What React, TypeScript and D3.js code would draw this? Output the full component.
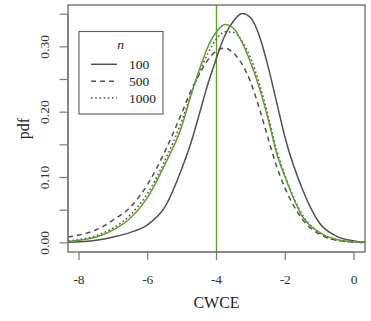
import React, { useRef, useEffect } from 'react';
import * as d3 from 'd3';

// CWCE grid (shared x positions) and density values
const cwce = [-8.32, -8, -7.5, -7, -6.5, -6, -5.5, -5, -4.75, -4.5, -4.25, -4, -3.75, -3.5, -3.25, -3, -2.75, -2.5, -2.25, -2, -1.5, -1, -0.5, 0, 0.32];

const pdf100 = [0.001, 0.0015, 0.004, 0.009, 0.016, 0.028, 0.055, 0.115, 0.152, 0.197, 0.243, 0.283, 0.318, 0.34, 0.351, 0.344, 0.316, 0.27, 0.215, 0.16, 0.082, 0.03, 0.01, 0.003, 0.001];
const pdf500 = [0.009, 0.012, 0.02, 0.035, 0.055, 0.09, 0.14, 0.2, 0.232, 0.258, 0.28, 0.294, 0.298, 0.29, 0.273, 0.245, 0.205, 0.16, 0.117, 0.083, 0.036, 0.013, 0.004, 0.0012, 0.0005];
const pdf1000 = [0.003, 0.005, 0.011, 0.023, 0.043, 0.076, 0.126, 0.188, 0.226, 0.26, 0.29, 0.312, 0.323, 0.322, 0.308, 0.282, 0.243, 0.195, 0.142, 0.102, 0.043, 0.015, 0.004, 0.001, 0.0005];
const pdfTrue = [0.002, 0.004, 0.009, 0.02, 0.038, 0.07, 0.12, 0.18, 0.225, 0.265, 0.3, 0.323, 0.334, 0.328, 0.306, 0.275, 0.237, 0.19, 0.137, 0.1, 0.04, 0.016, 0.005, 0.0015, 0.001];

const trueValue = -4;

const xTicks = [-8, -6, -4, -2, 0];
const yTicks = [0, 0.05, 0.1, 0.15, 0.2, 0.25, 0.3, 0.35];
const yLabelled = [0, 0.1, 0.2, 0.3];

const legendNames = ['100', '500', '1000'];
const legendDash = ['none', '5,4', '1.6,2.6'];

const App = () => {
    const ref = useRef(null);

    useEffect(() => {
        const root = d3.select(ref.current);
        root.selectAll('*').remove();

        const left = 68, right = 365, top = 5, bottom = 252;
        const grey = '#505050';
        const green = '#5da02e';

        const x = d3.scaleLinear().domain([-8.32, 0.32]).range([left, right]);
        const y = d3.scaleLinear().domain([-0.014, 0.364]).range([bottom, top]);

        const svg = root.append('svg')
            .attr('width', 371)
            .attr('height', 321)
            .style('position', 'absolute')
            .style('left', 0)
            .style('top', 0)
            .style('font-family', '"Liberation Serif", "DejaVu Serif", serif');

        const clip = svg.append('clipPath').attr('id', 'plotclip');
        clip.append('rect').attr('x', left).attr('y', top).attr('width', right - left).attr('height', bottom - top);

        const line = d3.line()
            .x((d, i) => x(cwce[i]))
            .y(d => y(d))
            .curve(d3.curveMonotoneX);

        const g = svg.append('g').attr('clip-path', 'url(#plotclip)');

        g.append('line')
            .attr('x1', x(trueValue)).attr('x2', x(trueValue))
            .attr('y1', top).attr('y2', bottom)
            .attr('stroke', green).attr('stroke-width', 1.4);

        const series = [
            { values: pdf100, dash: 'none', color: grey },
            { values: pdf500, dash: '5,4', color: grey },
            { values: pdf1000, dash: '1.6,2.6', color: grey },
            { values: pdfTrue, dash: 'none', color: green },
        ];

        series.forEach(s => {
            g.append('path')
                .attr('d', line(s.values))
                .attr('fill', 'none')
                .attr('stroke', s.color)
                .attr('stroke-width', 1.5)
                .attr('stroke-dasharray', s.dash);
        });

        // box
        svg.append('rect')
            .attr('x', left).attr('y', top)
            .attr('width', right - left).attr('height', bottom - top)
            .attr('fill', 'none').attr('stroke', '#5a5a5a').attr('stroke-width', 1.2);

        // x axis
        const xa = svg.append('g').attr('transform', `translate(0,${bottom})`);
        xa.append('line').attr('x1', x(-8)).attr('x2', x(0)).attr('stroke', '#777').attr('stroke-width', 1.2);
        xTicks.forEach(t => {
            xa.append('line').attr('x1', x(t)).attr('x2', x(t)).attr('y1', 0).attr('y2', 8)
                .attr('stroke', '#777').attr('stroke-width', 1.2);
            xa.append('text').attr('x', x(t)).attr('y', 32)
                .attr('text-anchor', 'middle').attr('font-size', 13.5).attr('fill', '#333')
                .text(t);
        });

        // y axis
        const ya = svg.append('g').attr('transform', `translate(${left},0)`);
        ya.append('line').attr('y1', y(0)).attr('y2', y(0.35)).attr('stroke', '#777').attr('stroke-width', 1.2);
        yTicks.forEach(t => {
            ya.append('line').attr('x1', -8.5).attr('x2', 0).attr('y1', y(t)).attr('y2', y(t))
                .attr('stroke', '#777').attr('stroke-width', 1.2);
        });
        yLabelled.forEach(t => {
            ya.append('text')
                .attr('transform', `translate(-19,${y(t)}) rotate(-90)`)
                .attr('text-anchor', 'middle').attr('font-size', 13.5).attr('fill', '#333')
                .text(d3.format('.2f')(t));
        });

        // axis titles
        svg.append('text').attr('x', (left + right) / 2).attr('y', 308)
            .attr('text-anchor', 'middle').attr('font-size', 16).attr('fill', '#222')
            .text('CWCE');
        svg.append('text')
            .attr('transform', `translate(29,${(top + bottom) / 2}) rotate(-90)`)
            .attr('text-anchor', 'middle').attr('font-size', 16).attr('fill', '#222')
            .text('pdf');

        // legend
        const lg = svg.append('g');
        lg.append('rect').attr('x', 79).attr('y', 31.5).attr('width', 84).attr('height', 82.5)
            .attr('fill', 'white').attr('stroke', '#5a5a5a').attr('stroke-width', 1.1);
        lg.append('text').attr('x', 120.7).attr('y', 48.5).attr('text-anchor', 'middle')
            .attr('font-size', 13.5).attr('font-style', 'italic').attr('fill', '#222').text('n');
        legendNames.forEach((name, i) => {
            const ly = 64.3 + i * 16.9;
            lg.append('line').attr('x1', 91).attr('x2', 117).attr('y1', ly).attr('y2', ly)
                .attr('stroke', grey).attr('stroke-width', 1.5).attr('stroke-dasharray', legendDash[i]);
            lg.append('text').attr('x', 129).attr('y', ly + 4.5).attr('font-size', 13.5)
                .attr('fill', '#222').text(name);
        });
    }, []);

    return <div ref={ref}></div>;
};

export default App;
